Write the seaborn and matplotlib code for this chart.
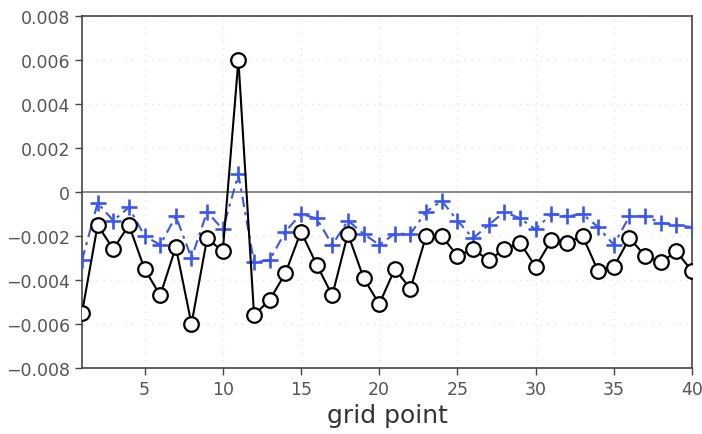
import numpy as np
import pandas as pd
import matplotlib
matplotlib.use("Agg")
import matplotlib.pyplot as plt
import seaborn as sns

grid_point = list(range(1, 41))
black_vals = [-0.0055, -0.0015, -0.0026, -0.0015, -0.0035, -0.0047, -0.0025, -0.0060, -0.0021, -0.0027,
              0.0060, -0.0056, -0.0049, -0.0037, -0.0018, -0.0033, -0.0047, -0.0019, -0.0039, -0.0051,
              -0.0035, -0.0044, -0.0020, -0.0020, -0.0029, -0.0026, -0.0031, -0.0026, -0.0023, -0.0034,
              -0.0022, -0.0023, -0.0020, -0.0036, -0.0034, -0.0021, -0.0029, -0.0032, -0.0027, -0.0036]
blue_vals = [-0.0031, -0.0005, -0.0013, -0.0007, -0.0020, -0.0024, -0.0011, -0.0030, -0.0009, -0.0017,
             0.0008, -0.0032, -0.0031, -0.0018, -0.0010, -0.0012, -0.0024, -0.0013, -0.0019, -0.0024,
             -0.0019, -0.0019, -0.0009, -0.0004, -0.0013, -0.0021, -0.0015, -0.0009, -0.0012, -0.0017,
             -0.0010, -0.0011, -0.0010, -0.0016, -0.0024, -0.0011, -0.0011, -0.0014, -0.0015, -0.0016]
x_ticks = [5, 10, 15, 20, 25, 30, 35, 40]
y_ticks = [-0.008, -0.006, -0.004, -0.002, 0, 0.002, 0.004, 0.006, 0.008]
y_tick_labels = ["\u22120.008", "\u22120.006", "\u22120.004", "\u22120.002", "0", "0.002", "0.004", "0.006", "0.008"]
x_label = "grid point"

sns.set_theme(style="white")
plt.rcParams['font.family'] = ['DejaVu Sans']

df = pd.DataFrame({"x": grid_point, "black": black_vals, "blue": blue_vals})

fig = plt.figure(figsize=(7.02, 4.35), dpi=100)
ax = fig.add_axes([0.1168, 0.1517, 0.8690, 0.8093])

ax.axhline(0, color="#777777", lw=1.2, zorder=1)

sns.lineplot(data=df, x="x", y="blue", ax=ax, color="#3a55f0", lw=1.5,
             marker="+", markersize=11.5, markeredgewidth=1.9, markeredgecolor="#3a55f0",
             zorder=3)
ax.lines[-1].set_dashes([5, 2.5, 1.5, 2.5])
sns.lineplot(data=df, x="x", y="black", ax=ax, color="black", lw=1.5,
             marker="o", markersize=10.5, markerfacecolor="white", markeredgecolor="black",
             markeredgewidth=1.6, zorder=4)

ax.set_xlim(1, 40)
ax.set_ylim(-0.008, 0.008)
ax.set_xticks(x_ticks)
ax.set_yticks(y_ticks)
ax.set_yticklabels(y_tick_labels)
ax.grid(True, color="#e2e2e2", linestyle=(0, (1, 4)), lw=1.0)
ax.set_xlabel(x_label, fontsize=18, color="#333333", labelpad=4)
ax.set_ylabel("")
ax.tick_params(axis="both", which="both", direction="out", length=5, width=1,
               color="#444444", labelsize=12.5, labelcolor="#555555", left=True, bottom=True)
for s in ax.spines.values():
    s.set_color("#444444")
    s.set_linewidth(1.2)

fig.savefig("out.png", dpi=100)
